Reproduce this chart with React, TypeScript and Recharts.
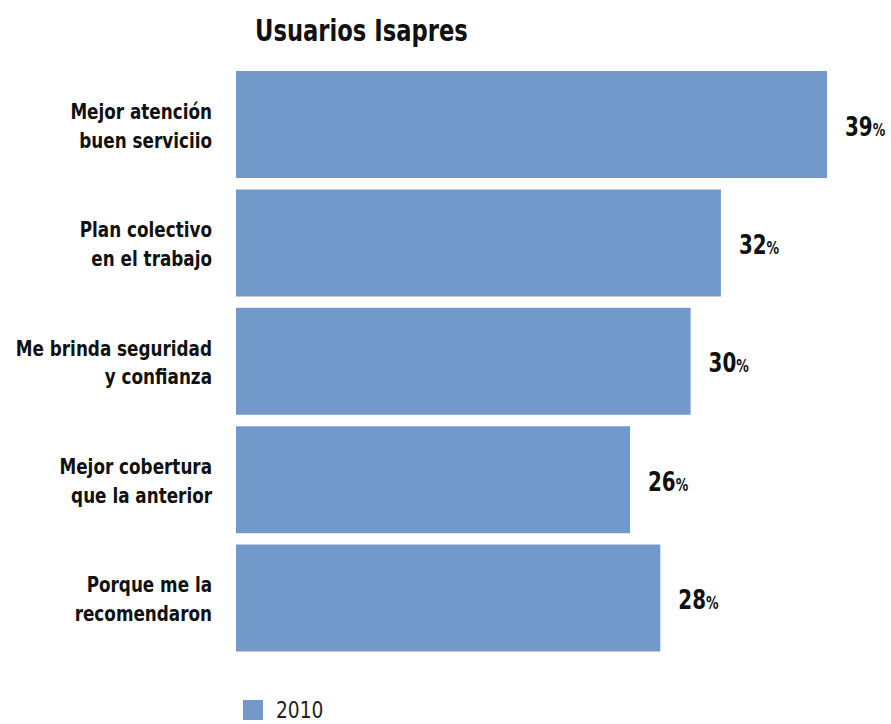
import { BarChart, Bar, XAxis, YAxis, LabelList } from 'recharts'

const categories = ['Mejor atención\nbuen serviciio', 'Plan colectivo\nen el trabajo', 'Me brinda seguridad\ny confianza', 'Mejor cobertura\nque la anterior', 'Porque me la\nrecomendaron']
const values2010 = [39, 32, 30, 26, 28]
const seriesName = '2010'
const title = 'Usuarios Isapres'

const data = categories.map((c, i) => ({ name: c, v: values2010[i] }))

// no narrow font installed, so the condensed face is squeezed a bit more
const FONT = '"DejaVu Sans Condensed", "Liberation Sans", sans-serif'
const BAR = '#7399CA'

function CategoryTick({ y, payload }: any) {
  const lines = String(payload.value).split('\n')
  const lh = 29
  const start = -((lines.length - 1) * lh) / 2
  return (
    <g transform={`translate(212, ${y})`}>
      <text transform="scale(0.85, 1)" textAnchor="end" fontFamily={FONT} fontWeight={700} fontSize={22} fill="#111">
        {lines.map((l, i) => (
          <tspan key={i} x={0} y={start + i * lh} dy={9}>{l}</tspan>
        ))}
      </text>
    </g>
  )
}

function ValueLabel({ x, y, width, height, value }: any) {
  return (
    <g transform={`translate(${x + width + 18}, ${y + height / 2 + 11})`}>
      <text transform="scale(0.82, 1)" fontFamily={FONT} fontWeight={700} fill="#111">
        <tspan fontSize={27}>{value}</tspan>
        <tspan fontSize={17}>%</tspan>
      </text>
    </g>
  )
}

export default function App() {
  return (
    <div style={{ position: 'absolute', left: 0, top: 0, width: 891, height: 724, background: '#fff' }}>
      <div style={{ position: 'absolute', left: 255, top: 13, fontFamily: FONT, fontWeight: 700, fontSize: 30, color: '#111', transform: 'scaleX(0.84)', transformOrigin: 'left top', whiteSpace: 'nowrap' }}>
        {title}
      </div>
      <BarChart
        width={891}
        height={724}
        data={data}
        layout="vertical"
        margin={{ top: 65, right: 64, bottom: 67, left: 0 }}
      >
        <XAxis type="number" domain={[0, 39]} hide />
        <YAxis type="category" dataKey="name" width={236} axisLine={false} tickLine={false} tick={<CategoryTick />} interval={0} />
        <Bar dataKey="v" name={seriesName} fill={BAR} barSize={107} isAnimationActive={false}>
          <LabelList dataKey="v" content={<ValueLabel />} />
        </Bar>
      </BarChart>
      <div style={{ position: 'absolute', left: 243, top: 697, display: 'flex', alignItems: 'center', fontFamily: FONT, fontSize: 23, color: '#222' }}>
        <span style={{ display: 'inline-block', width: 20, height: 20, background: BAR, marginRight: 13 }} />
        <span style={{ display: 'inline-block', transform: 'scaleX(0.9)', transformOrigin: 'left center' }}>{seriesName}</span>
      </div>
    </div>
  )
}
